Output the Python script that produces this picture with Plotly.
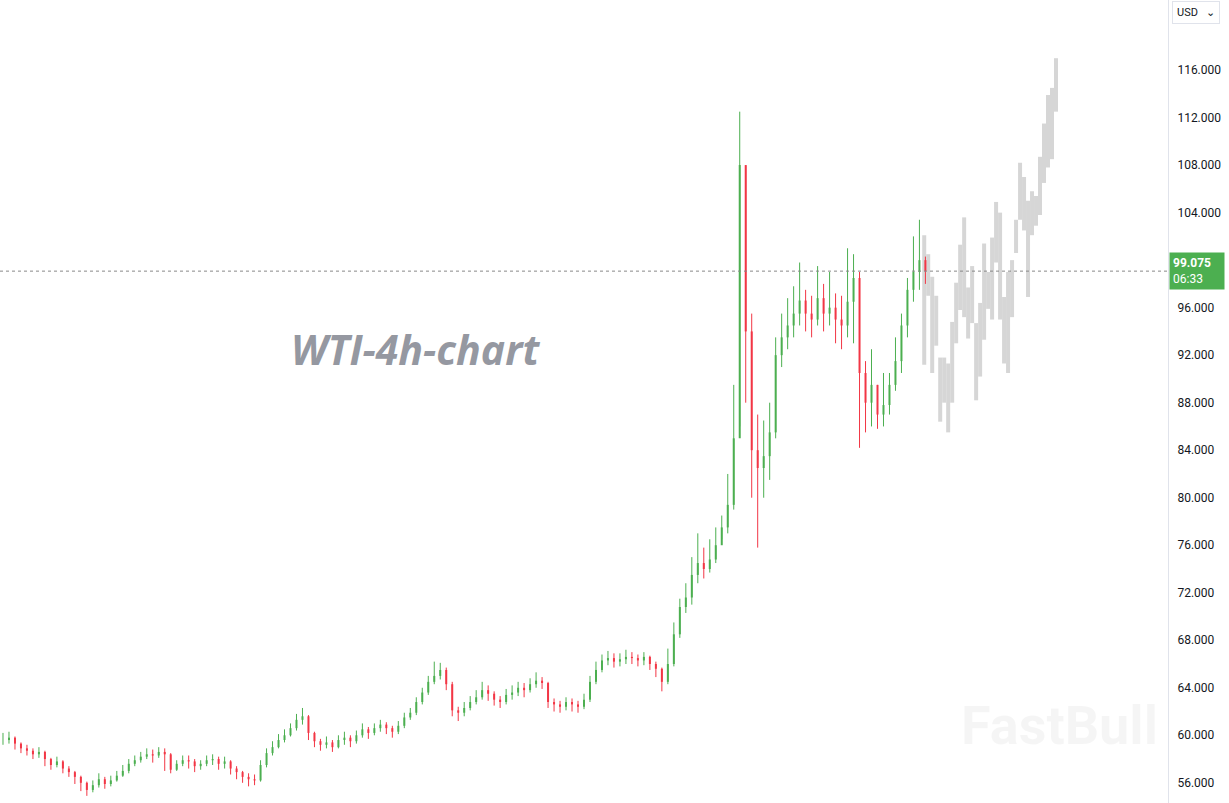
import plotly.graph_objects as go

closes = [59.6,59.8,59.3,58.9,58.7,58.4,58.6,58.0,57.5,57.8,57.2,
          56.9,56.5,56.0,55.4,55.8,56.3,
          55.9,56.2,56.6,57.0,
          57.6,57.9,58.2,58.4,58.3,
          58.6,58.4,57.1,57.6,57.9,
          57.8,57.4,57.6,57.9,58.0,57.6,
          57.8,57.2,56.9,56.5,56.3,56.2,
          57.5,58.5,59.0,59.6,60.0,60.6,
          61.3,61.6,60.2,59.5,
          59.2,59.4,59.0,59.6,59.8,59.5,
          60.0,60.5,60.2,60.6,60.9,
          60.6,60.3,60.8,61.5,
          61.9,62.8,63.6,64.5,65.0,
          65.5,64.3,62.1,
          61.9,62.3,62.8,63.2,63.8,
          63.5,63.0,62.8,63.4,63.6,
          64.0,63.8,64.3,64.6,64.4,
          62.8,62.6,62.4,62.8,62.6,
          62.4,63.0,64.5,65.5,66.3,
          66.5,66.2,66.4,66.6,66.5,66.3,66.6,
          66.0,65.6,64.5,66.0,
          68.5,70.8,71.6,73.5,
          74.5,74.0,74.8,76.0,
          77.5,79.4,85.0,
          108.0,94.0,
          84.0,82.5,83.5,85.5,92.0,
          93.5,94.5,95.5,96.6,95.5,
          95.0,96.8,95.5,96.0,95.0,
          94.5,96.5,98.5,90.5,88.0,
          89.5,87.0,87.8,89.5,91.5,
          94.5,97.5,99.0,100.0,99.075]

highs = [60.2,60.3,59.9,59.4,59.2,58.9,59.0,58.7,58.1,58.2,57.9,
         57.4,57.0,56.6,56.1,56.2,56.8,
         56.5,56.6,57.0,57.5,
         58.0,58.3,58.6,58.9,58.8,
         59.0,58.9,58.5,57.9,58.3,
         58.3,58.0,57.9,58.3,58.4,58.2,
         58.2,57.9,57.4,57.0,56.8,56.7,
         57.9,58.9,59.5,60.1,60.5,61.0,
         61.8,62.3,61.7,60.3,
         59.7,59.9,59.6,60.0,60.3,60.0,
         60.4,61.0,60.7,61.0,61.3,
         61.1,60.8,61.2,61.9,
         62.3,63.2,64.0,65.0,66.2,
         66.1,65.7,64.5,
         62.4,62.8,63.3,63.8,64.5,
         64.2,63.7,63.3,63.9,64.2,
         64.5,64.4,64.8,65.3,64.9,
         64.5,63.1,62.9,63.2,63.1,
         62.9,63.5,65.0,66.2,66.8,
         67.1,66.9,66.9,67.2,67.0,66.8,67.0,
         66.7,66.2,65.7,67.3,
         69.5,71.5,72.8,75.0,
         77.0,75.8,76.5,77.5,
         78.5,82.0,89.5,
         112.5,108.0,
         95.5,87.0,86.5,88.0,93.5,
         95.5,96.8,97.8,99.8,97.5,
         97.0,99.5,98.0,99.0,97.2,
         97.0,101.0,100.5,99.0,91.5,
         92.5,89.5,90.5,90.5,93.5,
         95.5,98.5,102.0,103.4,100.3]

lows = [59.2,59.3,58.8,58.5,58.3,58.0,58.1,57.4,57.1,57.3,56.8,
        56.5,55.9,55.3,54.9,55.2,55.6,
        55.5,55.7,56.1,56.5,
        56.8,57.4,57.7,58.0,57.7,
        58.1,57.0,56.8,57.0,57.4,
        57.2,56.9,57.1,57.4,57.5,57.1,
        57.2,56.7,56.3,56.0,55.7,55.8,
        56.1,57.3,58.3,58.9,59.4,59.9,
        60.4,60.9,59.6,59.0,
        58.7,58.9,58.6,58.9,59.2,59.0,
        59.3,59.8,59.7,60.0,60.3,
        60.1,59.8,60.1,60.6,
        61.3,61.7,62.6,63.4,64.3,
        64.7,63.8,61.6,
        61.2,61.6,62.1,62.6,63.0,
        62.9,62.5,62.3,62.6,63.0,
        63.3,63.2,63.6,64.0,63.9,
        62.3,62.0,61.9,62.1,62.0,
        61.9,62.2,62.8,64.3,65.3,
        65.9,65.7,65.8,66.0,66.0,65.8,65.9,
        65.5,64.9,63.7,64.3,
        65.8,68.2,70.3,71.0,
        72.8,73.2,73.7,74.5,
        76.5,77.0,79.0,
        86.0,88.0,
        80.0,75.8,80.0,81.5,85.0,
        91.0,92.5,93.5,94.5,94.0,
        93.5,94.5,94.0,94.5,93.0,
        92.5,93.5,93.0,84.2,85.5,
        86.0,85.8,86.0,87.0,89.0,
        90.5,93.5,96.5,97.5,98.0]

proj_highs = [102.1,100.5,98.6,97.0,91.8,91.8,91.3,94.8,98.1,101.3,103.6,97.7,99.5,94.7,96.4,
              101.4,99.0,101.9,104.9,104.0,96.9,99.0,100.0,103.4,108.2,107.0,105.0,105.8,105.4,
              108.7,111.5,113.9,114.5,117.0]
proj_lows = [91.2,97.0,90.5,92.8,86.4,88.0,85.5,88.0,93.0,95.8,95.2,93.4,94.7,88.2,90.2,
             93.3,95.9,95.0,99.8,95.0,91.3,90.5,95.2,100.6,103.4,102.5,96.9,102.1,102.9,
             103.8,106.5,107.8,108.5,112.5]

tick_vals = [56, 60, 64, 68, 72, 76, 80, 84, 88, 92, 96, 100, 104, 108, 112, 116]
last_price = 99.075
last_label = "<b>99.075</b><br>06:33"

GREEN = "#4caf50"
RED = "#f23645"

opens = [closes[0]] + closes[:-1]

def segs(idx, lo_arr, hi_arr):
    xs, ys = [], []
    for i in idx:
        xs += [i, i, None]
        ys += [lo_arr[i], hi_arr[i], None]
    return xs, ys

up = [i for i in range(len(closes)) if closes[i] >= opens[i]]
dn = [i for i in range(len(closes)) if closes[i] < opens[i]]
bot = [min(o, c) for o, c in zip(opens, closes)]
top = [max(o, c) for o, c in zip(opens, closes)]

fig = go.Figure()

px0 = len(closes) - 1 - 0.2
pstep = 4 / 6
pxs, pys = [], []
for k in range(len(proj_highs)):
    x = px0 + pstep * k
    pxs += [x, x, None]
    pys += [proj_lows[k], proj_highs[k], None]
fig.add_trace(go.Scatter(x=pxs, y=pys, mode="lines", line=dict(color="#d6d6d6", width=4),
                         hoverinfo="skip", showlegend=False))

for idx, col in ((up, GREEN), (dn, RED)):
    xs, ys = segs(idx, lows, highs)
    fig.add_trace(go.Scatter(x=xs, y=ys, mode="lines", line=dict(color=col, width=1),
                             hoverinfo="skip", showlegend=False))
    xs, ys = segs(idx, bot, top)
    fig.add_trace(go.Scatter(x=xs, y=ys, mode="lines", line=dict(color=col, width=2),
                             hoverinfo="skip", showlegend=False))

fig.add_hline(y=last_price, line=dict(color="#888", width=1, dash="dot"))

fig.add_annotation(xref="paper", yref="y", x=1.0, y=last_price, xanchor="left", yanchor="middle",
                   text=last_label, showarrow=False, bgcolor=GREEN,
                   font=dict(color="white", size=12, family="Roboto"), align="left",
                   borderpad=3, xshift=1, width=48)

fig.add_annotation(xref="paper", yref="paper", x=0.356, y=0.565, text="<i><b>WTI-4h-chart</b></i>",
                   showarrow=False, font=dict(size=41, color="#9598a1", family="Open Sans"))
fig.add_annotation(xref="paper", yref="paper", x=0.993, y=0.097, xanchor="right", yanchor="middle",
                   text="<b>FastBull</b>",
                   showarrow=False, font=dict(size=54, color="rgba(0,0,0,0.04)", family="Roboto"))

fig.add_annotation(xref="paper", yref="paper", x=1.0, y=0.985, xanchor="left", yanchor="middle",
                   text="USD   ⌄", showarrow=False, xshift=4, bordercolor="#e0e3eb", borderwidth=1,
                   borderpad=4, bgcolor="white", font=dict(size=11, color="#131722", family="Roboto"))

fig.update_layout(
    width=1229, height=803,
    margin=dict(l=0, r=61, t=0, b=0),
    plot_bgcolor="white", paper_bgcolor="white",
    xaxis=dict(range=[-0.5, 194.5], visible=False, fixedrange=True),
    yaxis=dict(range=[54.3, 121.9], side="right", tickvals=tick_vals, automargin=False,
               ticktext=[f"{v:.3f}" for v in tick_vals], showgrid=False, zeroline=False,
               showline=True, linecolor="#e0e3eb", ticks="", ticklabelstandoff=6,
               tickfont=dict(size=12, color="#131722", family="Roboto")),
    showlegend=False,
)

fig.write_html("out.html", config={"displayModeBar": False},
               post_script="document.body.style.margin='0';document.body.style.overflow='hidden';")
